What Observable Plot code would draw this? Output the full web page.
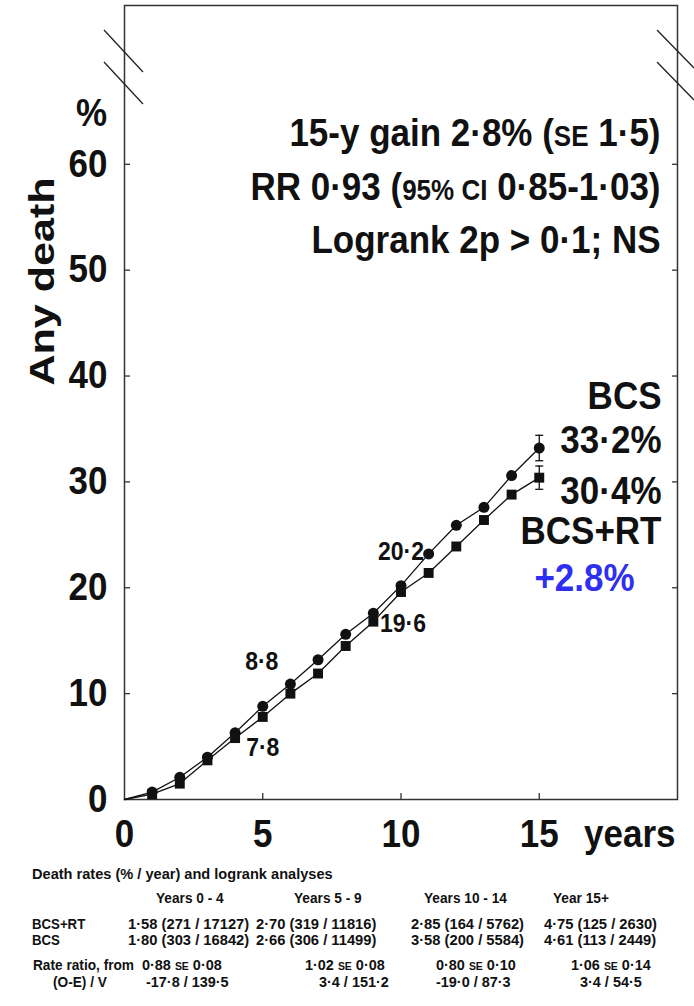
<!DOCTYPE html>
<html><head><meta charset="utf-8">
<script src="https://cdn.jsdelivr.net/npm/d3@7"></script>
<script src="https://cdn.jsdelivr.net/npm/@observablehq/plot@0.6"></script>
<style>
body{margin:0;background:#fff;}
#wrap{position:relative;width:694px;height:1006px;font-family:"Liberation Sans",Arial,Helvetica,sans-serif;font-weight:bold;color:#111;overflow:hidden;}
#chart svg{display:block;}
.t{position:absolute;font-size:15.2px;line-height:1;white-space:nowrap;transform-origin:0 12.9px;}
.sc{font-size:11px;}
</style></head><body>
<div id="wrap"><div id="chart"></div><div id="table"></div></div>
<script>
// ---- data ----
const years  = [0, 1, 2, 3, 4, 5, 6, 7, 8, 9, 10, 11, 12, 13, 14, 15];
const bcs    = [0, 0.7, 2.1, 4.0, 6.3, 8.8, 10.9, 13.2, 15.6, 17.6, 20.2, 23.2, 25.9, 27.6, 30.6, 33.2];
const bcsRt  = [0, 0.5, 1.5, 3.7, 5.8, 7.8, 10.0, 11.9, 14.5, 16.8, 19.6, 21.4, 23.9, 26.4, 28.8, 30.4];
const finalYear = 15;
const seFinalBcs = 1.2;
const seFinalBcsRt = 1.1;
const labelYears = [5, 10];
const yTicks = [0, 10, 20, 30, 40, 50, 60];
const xTicks = [0, 5, 10, 15];

const annotLines = ["15-y gain 2·8% ({se} 1·5)", "RR 0·93 ({95% ci} 0·85-1·03)", "Logrank 2p > 0·1; NS"];

// table data
const periods   = ["Years 0 - 4", "Years 5 - 9", "Years 10 - 14", "Year 15+"];
const rtRate    = [1.58, 2.70, 2.85, 4.75];
const rtDeaths  = [271, 319, 164, 125];
const rtPY      = [17127, 11816, 5762, 2630];
const bcsRate   = [1.80, 2.66, 3.58, 4.61];
const bcsDeaths = [303, 306, 200, 113];
const bcsPY     = [16842, 11499, 5584, 2449];
const rateRatio = [0.88, 1.02, 0.80, 1.06];
const rateRatioSE = [0.08, 0.08, 0.10, 0.14];
const oMinusE   = [-17.8, 3.4, -19.0, 3.4];
const variance  = [139.5, 151.2, 87.3, 54.5];

// ---- helpers ----
const dot = s => String(s).replace(".", "·").replace("\u2212", "-");
const f1 = v => dot(d3.format(".1f")(v));
const f2 = v => dot(d3.format(".2f")(v));

const ptsBcs = years.map((t, i) => ({year: t, risk: bcs[i]}));
const ptsRt  = years.map((t, i) => ({year: t, risk: bcsRt[i]}));
const iFinal = years.indexOf(finalYear);
const errData = [
  {year: finalYear, lo: bcs[iFinal] - seFinalBcs, hi: bcs[iFinal] + seFinalBcs},
  {year: finalYear, lo: bcsRt[iFinal] - seFinalBcsRt, hi: bcsRt[iFinal] + seFinalBcsRt}
];
const hbar = {draw(ctx, size) { const r = Math.sqrt(size / Math.PI); ctx.moveTo(-r, 0); ctx.lineTo(r, 0); }};
const ink = "#111";
const FS = 35;

const chart = Plot.plot({
  width: 694, height: 855,
  marginTop: 5, marginBottom: 56, marginLeft: 124, marginRight: 17,
  x: {domain: [0, 20]},
  y: {domain: [0, 75]},
  style: {fontFamily: '"Liberation Sans", Arial, sans-serif', fontWeight: "bold", color: ink, background: "#fff", overflow: "visible"},
  marks: [
    Plot.frame({stroke: "#333", strokeWidth: 1.5}),
    // inward ticks
    Plot.axisY(yTicks.filter(d => d > 0), {anchor: "left", tickSize: 6, dx: 6, tickFormat: () => "", label: null, stroke: "#333", strokeWidth: 1.3}),
    Plot.axisY(yTicks.filter(d => d > 0), {anchor: "right", tickSize: 6, dx: -6, tickFormat: () => "", label: null, stroke: "#333", strokeWidth: 1.3}),
    Plot.axisX(xTicks.filter(d => d > 0), {anchor: "bottom", tickSize: 6, dy: -6, tickFormat: () => "", label: null, stroke: "#333", strokeWidth: 1.3}),
    // tick labels
    Plot.axisY(yTicks, {anchor: "left", tickSize: 0, tickPadding: 17, fontSize: FS, fontWeight: "bold", label: null, fill: ink}),
    Plot.axisX(xTicks, {anchor: "bottom", tickSize: 0, tickPadding: 20, fontSize: FS, fontWeight: "bold", label: null, fill: ink}),
    Plot.text(["years"], {text: d => d, frameAnchor: "bottom-right", dx: -2, dy: 20, lineAnchor: "top", textAnchor: "end", fontSize: FS, fill: ink}),
    Plot.text(["%"], {text: d => d, frameAnchor: "top-left", dx: -33, dy: 120, lineAnchor: "bottom", textAnchor: "middle", fontSize: FS, fill: ink}),
    Plot.text(["Any death"], {text: d => d, frameAnchor: "left", dx: -82, dy: -17, rotate: -90, fontSize: FS, fill: ink}),
    // curves
    Plot.line(ptsBcs, {x: "year", y: "risk", stroke: ink, strokeWidth: 1.3}),
    Plot.line(ptsRt, {x: "year", y: "risk", stroke: ink, strokeWidth: 1.3}),
    Plot.ruleX(errData, {x: "year", y1: "lo", y2: "hi", stroke: ink, strokeWidth: 1.3}),
    Plot.dot(errData, {x: "year", y: "lo", symbol: hbar, r: 4, stroke: ink, strokeWidth: 1.3}),
    Plot.dot(errData, {x: "year", y: "hi", symbol: hbar, r: 4, stroke: ink, strokeWidth: 1.3}),
    Plot.dot(ptsBcs.filter(d => d.year > 0), {x: "year", y: "risk", symbol: "circle", r: 5.5, fill: ink}),
    Plot.dot(ptsRt.filter(d => d.year > 0), {x: "year", y: "risk", symbol: "square", r: 5.6, fill: ink}),
    // point value labels
    Plot.text([labelYears[0]], {x: d => d, y: d => bcs[years.indexOf(d)], text: d => f1(bcs[years.indexOf(d)]), dx: -1, dy: -44, fontSize: 23, fill: ink}),
    Plot.text([labelYears[0]], {x: d => d, y: d => bcsRt[years.indexOf(d)], text: d => f1(bcsRt[years.indexOf(d)]), dx: 0, dy: 31, fontSize: 23, fill: ink}),
    Plot.text([labelYears[1]], {x: d => d, y: d => bcs[years.indexOf(d)], text: d => f1(bcs[years.indexOf(d)]), dx: 0, dy: -34, fontSize: 23, fill: ink}),
    Plot.text([labelYears[1]], {x: d => d, y: d => bcsRt[years.indexOf(d)], text: d => f1(bcsRt[years.indexOf(d)]), dx: 2, dy: 32, fontSize: 23, fill: ink}),
    // annotation block
    Plot.text([annotLines[0]], {text: d => d, frameAnchor: "top-right", dx: -17, dy: 140, lineAnchor: "bottom", textAnchor: "end", fontSize: FS, fill: ink}),
    Plot.text([annotLines[1]], {text: d => d, frameAnchor: "top-right", dx: -17, dy: 194, lineAnchor: "bottom", textAnchor: "end", fontSize: FS, fill: ink}),
    Plot.text([annotLines[2]], {text: d => d, frameAnchor: "top-right", dx: -17, dy: 247, lineAnchor: "bottom", textAnchor: "end", fontSize: FS, fill: ink}),
    // group labels
    Plot.text(["BCS"], {text: d => d, frameAnchor: "top-right", dx: -16, dy: 403, lineAnchor: "bottom", textAnchor: "end", fontSize: FS, fill: ink}),
    Plot.text([bcs[iFinal]], {text: d => f1(d) + "%", frameAnchor: "top-right", dx: -16, dy: 447, lineAnchor: "bottom", textAnchor: "end", fontSize: FS, fill: ink}),
    Plot.text([bcsRt[iFinal]], {text: d => f1(d) + "%", frameAnchor: "top-right", dx: -16, dy: 498, lineAnchor: "bottom", textAnchor: "end", fontSize: FS, fill: ink}),
    Plot.text(["BCS+RT"], {text: d => d, frameAnchor: "top-right", dx: -16, dy: 538, lineAnchor: "bottom", textAnchor: "end", fontSize: FS, fill: ink}),
    Plot.text([bcs[iFinal] - bcsRt[iFinal]], {text: d => "+" + d3.format(".1f")(d) + "%", frameAnchor: "top-right", dx: -93, dy: 585, lineAnchor: "bottom", textAnchor: "middle", fontSize: FS, fill: "#2f2ff2"})
  ]
});

// small-caps markup {xx} -> smaller tspan
d3.select(chart).selectAll("text").each(function() {
  const t = this.textContent;
  if (!t.includes("{")) return;
  this.textContent = "";
  for (const part of t.split(/(\{[^}]*\})/)) {
    if (!part) continue;
    const ts = document.createElementNS("http://www.w3.org/2000/svg", "tspan");
    if (part.startsWith("{")) { ts.setAttribute("font-size", 26); ts.textContent = part.slice(1, -1).toUpperCase(); }
    else ts.textContent = part;
    this.appendChild(ts);
  }
});

// axis-break marks
const brk = d3.select(chart).append("g").attr("stroke", "#222").attr("stroke-width", 1.3);
[[104, 30, 143, 72], [104, 62, 143, 104], [657, 30, 694, 68], [657, 62, 694, 100]].forEach(([x1, y1, x2, y2]) =>
  brk.append("line").attr("x1", x1).attr("y1", y1).attr("x2", x2).attr("y2", y2));

document.getElementById("chart").appendChild(chart);

// the reference glyphs are slightly tall: stretch large texts vertically around their anchor
d3.select(chart).selectAll("text").each(function() {
  const fs = parseFloat(getComputedStyle(this).fontSize);
  const tr = this.getAttribute("transform");
  if (!tr || fs < 20) return;
  if (/rotate/.test(tr)) this.setAttribute("transform", tr + " scale(1.23,1)");
  else this.setAttribute("transform", tr + " scale(1,1.1)");
});

// ---- table below the chart ----
const tbl = d3.select("#table");
const sc = s => s.replace(/\{([^}]*)\}/g, '<span class="sc">$1</span>');
function put(html, x, baseline, sx = 0.95) {
  tbl.append("div").attr("class", "t")
    .style("top", (baseline - 12.9) + "px").style("left", x + "px")
    .style("transform", `scaleX(${sx})`)
    .html(sc(html));
}
put("Death rates (% / year) and logrank analyses", 32, 879, 0.96);
const hdrX = [156, 294, 424, 553];
periods.forEach((p, i) => put(p, hdrX[i], 903, 0.9));
put("BCS+RT", 32, 929, 0.87);
put("BCS", 32, 945, 0.87);
const rateX = [128, 256, 411, 544];
rtRate.forEach((r, i) => put(`${f2(r)} (${rtDeaths[i]} / ${rtPY[i]})`, rateX[i], 929, 0.97));
bcsRate.forEach((r, i) => put(`${f2(r)} (${bcsDeaths[i]} / ${bcsPY[i]})`, rateX[i], 945, 0.97));
put("Rate ratio, from", 33, 970, 0.9);
put("(O-E) / V", 53, 987, 0.9);
const rrX = [142, 305, 436, 571];
rateRatio.forEach((r, i) => put(`${f2(r)} {SE} ${f2(rateRatioSE[i])}`, rrX[i], 970, 0.95));
const oeX = [146, 319, 436, 580];
oMinusE.forEach((o, i) => put(`${f1(o)} / ${f1(variance[i])}`, oeX[i], 987, 0.95));
</script>
</body></html>
